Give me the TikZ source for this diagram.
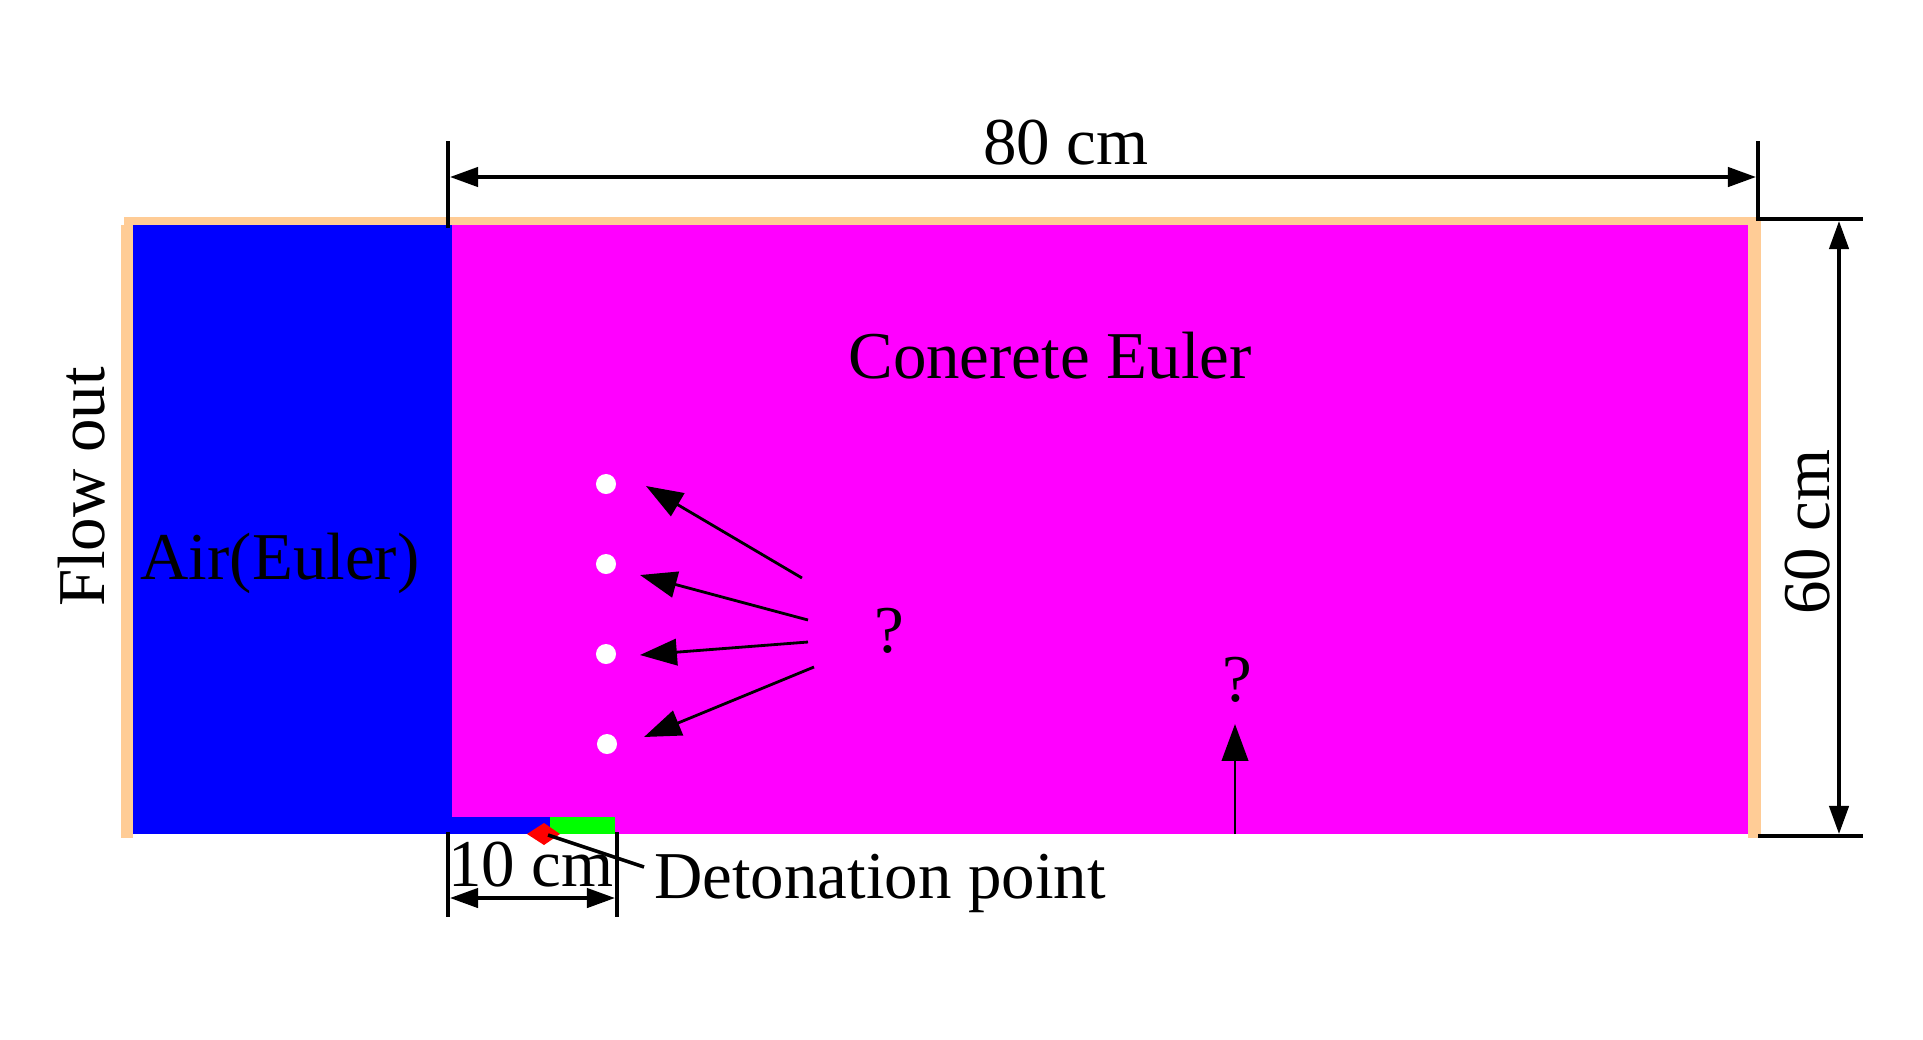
\documentclass[tikz,border=0pt]{standalone}
\usepackage{fontspec}
\setmainfont{Liberation Serif}
\usetikzlibrary{arrows.meta}
\tikzset{
	label/.style={inner sep=0pt, anchor=base, font=\fontsize{38.1}{40}\selectfont},
	dim/.style={line width=2pt, {Triangle[length=16pt,width=11pt]}-{Triangle[length=16pt,width=11pt]}},
	extline/.style={line width=2pt},
	pointer/.style={line width=1.6pt, -{Triangle[length=21pt,width=15pt]}},
	probe/.style={circle, fill=white, inner sep=0pt, minimum size=11.4pt}
}
\definecolor{wall}{RGB}{255,204,150}
\definecolor{concrete}{RGB}{255,0,255}
\begin{document}
\begin{tikzpicture}[x=0.02cm, y=-0.02cm]
	\useasboundingbox (0,0) rectangle (1923,1039);
	
	\fill[wall] (121,225) rectangle (133,838); %Rand
	\fill[wall] (124,217) rectangle (1761,225);
	\fill[wall] (1748,217) rectangle (1761,838);
	
	\fill[concrete] (452,225) rectangle (1748,834); %Flaechen
	\fill[blue] (133,225) rectangle (452,834);
	\fill[blue] (452,817) rectangle (550,834);
	\fill[green] (550,817) rectangle (615,834);
	\fill[red] (527,834) -- (544,823) -- (560,834) -- (544,845) -- cycle;
	
	\node[probe] (dot1) at (606,484) {};
	\node[probe] (dot2) at (606,564) {};
	\node[probe] (dot3) at (606,654) {};
	\node[probe] (dot4) at (607,744) {};
	
	\node[label] (top) at (1066,164) {80 cm};
	\node[label] (conc) at (1050,378) {Conerete Euler};
	\node[label] (air) at (280,579) {Air(Euler)};
	\node[label, rotate=90] (flow) at (104,487) {Flow out};
	\node[label, rotate=90] (side) at (1829,532) {60 cm};
	\node[label] (ten) at (531,886) {10 cm};
	\node[label] (det) at (880,898) {Detonation point};
	\node[label] (ask1) at (889,652) {?};
	\node[label] (ask2) at (1237,701) {?};
	
	\coordinate (a1) at (448,141); %Masslinien
	\coordinate (a2) at (448,228);
	\coordinate (b1) at (1758,141);
	\coordinate (b2) at (1758,219);
	\coordinate (b3) at (1863,219);
	\coordinate (c1) at (1758,836);
	\coordinate (c2) at (1863,836);
	\coordinate (d1) at (448,832);
	\coordinate (d2) at (448,917);
	\coordinate (e1) at (617,832);
	\coordinate (e2) at (617,917);
	\draw[extline] (a1) -- (a2);
	\draw[extline] (b1) -- (b2) -- (b3);
	\draw[extline] (c1) -- (c2);
	\draw[extline] (d1) -- (d2);
	\draw[extline] (e1) -- (e2);
	
	\coordinate (f1) at (450,177);
	\coordinate (f2) at (1756,177);
	\coordinate (g1) at (1839,221);
	\coordinate (g2) at (1839,834);
	\coordinate (h1) at (450,898);
	\coordinate (h2) at (615,898);
	\draw[dim] (f1) -- (f2);
	\draw[dim] (g1) -- (g2);
	\draw[dim] (h1) -- (h2);
	
	\coordinate (p1s) at (802,578); %Pfeile
	\coordinate (p1e) at (646,486);
	\coordinate (p2s) at (808,620);
	\coordinate (p2e) at (640,575);
	\coordinate (p3s) at (808,642);
	\coordinate (p3e) at (640,655);
	\coordinate (p4s) at (814,667);
	\coordinate (p4e) at (644,737);
	\coordinate (p5s) at (1235,834);
	\coordinate (p5e) at (1235,724);
	\draw[pointer] (p1s) -- (p1e);
	\draw[pointer] (p2s) -- (p2e);
	\draw[pointer] (p3s) -- (p3e);
	\draw[pointer] (p4s) -- (p4e);
	\draw[pointer] (p5s) -- (p5e);
	
	\coordinate (q1) at (548,835);
	\coordinate (q2) at (644,867);
	\draw[extline] (q1) -- (q2);
\end{tikzpicture}
\end{document}
